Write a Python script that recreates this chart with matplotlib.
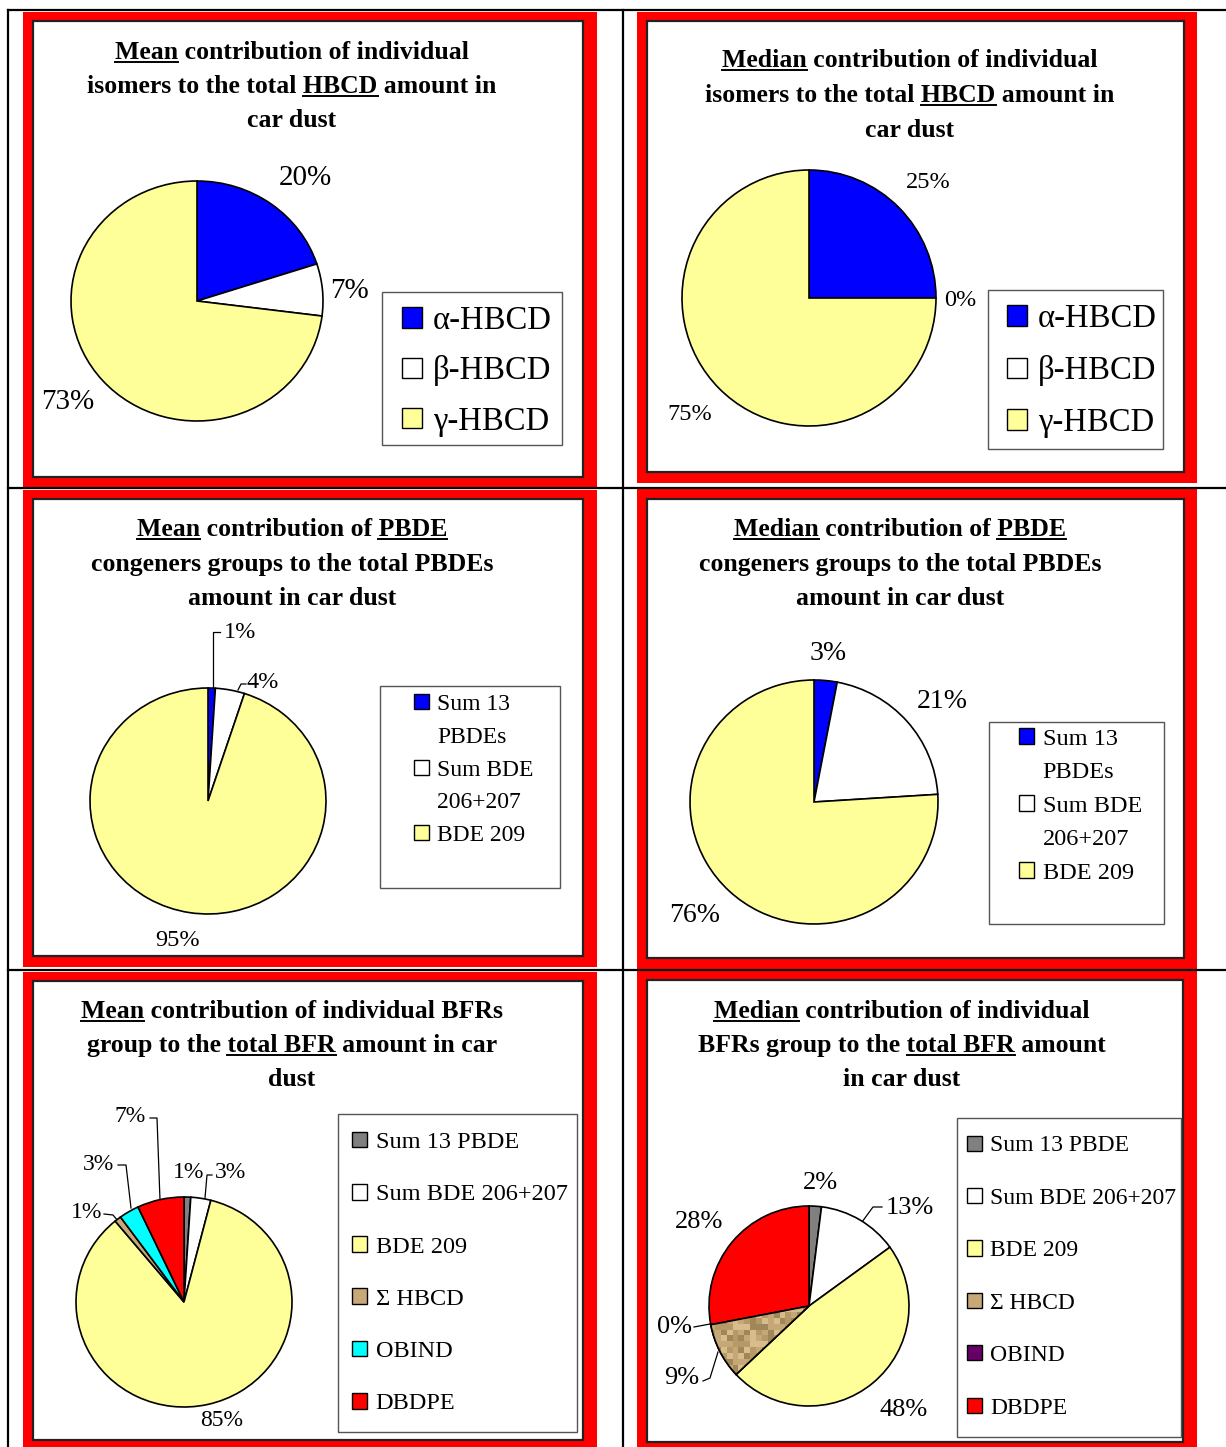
import numpy as np
import matplotlib
matplotlib.use("Agg")
import matplotlib.pyplot as plt
import matplotlib.patches as mpatches
from matplotlib.font_manager import FontProperties

# ---- data ----
hbcd_labels = ['α-HBCD', 'β-HBCD', 'γ-HBCD']
hbcd_mean = [20, 7, 73]
hbcd_median = [25, 0, 75]

pbde_labels = ['Sum 13\nPBDEs', 'Sum BDE\n206+207', 'BDE 209']
pbde_mean = [1, 4, 95]
pbde_median = [3, 21, 76]

bfr_labels = ['Sum 13 PBDE', 'Sum BDE 206+207', 'BDE 209', 'Σ HBCD', 'OBIND', 'DBDPE']
bfr_mean = [1, 3, 85, 1, 3, 7]
bfr_median = [2, 13, 48, 9, 0, 28]

hbcd_colors = ['#0000FF', '#FFFFFF', '#FFFF99']
pbde_colors = ['#0000FF', '#FFFFFF', '#FFFF99']
bfr_colors_mean = ['#808080', '#FFFFFF', '#FFFF99', '#C8A878', '#00FFFF', '#FF0000']
bfr_colors_median = ['#808080', '#FFFFFF', '#FFFF99', '#C8A878', '#660066', '#FF0000']

W, H = 1226, 1447
SERIF = 'Liberation Serif'

fig = plt.figure(figsize=(W / 100, H / 100), dpi=100)
bg = fig.add_axes([0, 0, 1, 1])
bg.set_xlim(0, W)
bg.set_ylim(H, 0)
bg.axis('off')
renderer = fig.canvas.get_renderer()

# ---- table grid and red frames ----
frames = [  # red outer, inner box
    ((23, 12, 597, 487), (33, 21, 583, 477)),
    ((637, 12, 1197, 483), (647, 21, 1184, 472)),
    ((23, 490, 597, 967), (33, 499, 583, 956)),
    ((637, 489, 1197, 969), (647, 499, 1184, 958)),
    ((23, 972, 597, 1447), (33, 981, 583, 1440)),
    ((637, 969, 1197, 1447), (647, 980, 1183, 1442)),
]
for (r0, r1, r2, r3), (i0, i1, i2, i3) in frames:
    bg.add_patch(mpatches.Rectangle((r0, r1), r2 - r0, r3 - r1, color='#FF0000', lw=0, zorder=1))
    bg.add_patch(mpatches.Rectangle((i0, i1), i2 - i0, i3 - i1, facecolor='white',
                                    edgecolor='#222222', lw=1.6, zorder=2))

for x in (8, 623):
    bg.plot([x, x], [10, H], color='black', lw=1.6, zorder=5)
for y in (10, 488, 970):
    bg.plot([8, W], [y, y], color='black', lw=1.6, zorder=5)


def text_width(s, prop):
    t = bg.text(0, 0, s, fontproperties=prop)
    w = t.get_window_extent(renderer).width
    t.remove()
    return w


def title(cx, baselines, lines, size=18.5):
    prop = FontProperties(family=SERIF, weight='bold', size=size)
    for y, (line, under) in zip(baselines, lines):
        bg.text(cx, y, line, ha='center', va='baseline', fontproperties=prop, zorder=6)
        left = cx - text_width(line, prop) / 2
        for word in under:
            k = line.index(word) + len(word)
            x1 = left + text_width(line[:k], prop)
            x0 = x1 - text_width(word, prop)
            bg.plot([x0, x1], [y + 3, y + 3], color='black', lw=1.4, zorder=6)


def pie(cx, cy, rx, ry, values, colors):
    ax = fig.add_axes([(cx - rx) / W, 1 - (cy + ry) / H, 2 * rx / W, 2 * ry / H])
    wedges, _ = ax.pie(values, colors=colors, startangle=90, counterclock=False,
                       wedgeprops=dict(edgecolor='black', linewidth=1.2))
    ax.set_aspect('auto')
    ax.set_xlim(-1, 1)
    ax.set_ylim(-1, 1)
    ax.axis('off')
    return ax, wedges


def pct_labels(values, positions, size):
    for v, (x, y) in zip(values, positions):
        bg.text(x, y, f'{v}%', ha='center', va='center', family=SERIF, size=size, zorder=6)


def leaders(paths):
    for p in paths:
        xs, ys = zip(*p)
        bg.plot(xs, ys, color='black', lw=0.9, zorder=6)


def legend(box, labels, colors, fs, padx, ls, hs, cy=None):
    x0, y0, x1, y1 = box
    if cy is None:
        cy = (y0 + y1) / 2
    bg.add_patch(mpatches.Rectangle((x0, y0), x1 - x0, y1 - y0, facecolor='white',
                                    edgecolor='#555555', lw=1.0, zorder=3))
    handles, texts = [], []
    for lab, c in zip(labels, colors):
        for n, part in enumerate(lab.split('\n')):
            if n == 0:
                handles.append(mpatches.Patch(facecolor=c, edgecolor='black', lw=1.0))
            else:
                handles.append(mpatches.Patch(facecolor='none', edgecolor='none'))
            texts.append(part)
    fig.legend(handles, texts, loc='center left',
               bbox_to_anchor=((x0 + padx) / W, 1 - cy / H),
               frameon=False, prop=FontProperties(family=SERIF, size=fs),
               handlelength=hs, handleheight=hs, handletextpad=0.35,
               labelspacing=ls, borderpad=0, borderaxespad=0)


# ---- cell 1: mean HBCD ----
title(292, [59, 93, 127], [("Mean contribution of individual", ["Mean"]),
                          ("isomers to the total HBCD amount in", ["HBCD"]),
                          ("car dust", [])])
pie(197, 301, 126, 120, hbcd_mean, hbcd_colors)
pct_labels(hbcd_mean, [(305, 178), (350, 291), (68, 402)], 21)
legend((382, 292, 562, 445), hbcd_labels, hbcd_colors, 23.5, 20, 0.6, 0.6, cy=371)

# ---- cell 2: median HBCD ----
title(910, [67, 102, 137], [("Median contribution of individual", ["Median"]),
                           ("isomers to the total HBCD amount in", ["HBCD"]),
                           ("car dust", [])])
pie(809, 298, 127, 128, hbcd_median, hbcd_colors)
pct_labels(hbcd_median, [(928, 183), (960, 301), (690, 415)], 17.5)
legend((988, 290, 1163, 449), hbcd_labels, hbcd_colors, 23.5, 19, 0.65, 0.6, cy=371)

# ---- cell 3: mean PBDE ----
title(292, [536, 571, 605], [("Mean contribution of PBDE", ["Mean", "PBDE"]),
                            ("congeners groups to the total PBDEs", []),
                            ("amount in car dust", [])])
pie(208, 801, 118, 113, pbde_mean, pbde_colors)
pct_labels(pbde_mean, [(240, 633), (263, 683), (178, 940)], 17.5)
leaders([[(213, 689), (213, 632), (220, 632)], [(238, 690), (241, 684), (246, 684)]])
legend((380, 686, 560, 888), pbde_labels, pbde_colors, 17, 34, 0.5, 0.62, cy=770)

# ---- cell 4: median PBDE ----
title(900, [536, 571, 605], [("Median contribution of PBDE", ["Median", "PBDE"]),
                            ("congeners groups to the total PBDEs", []),
                            ("amount in car dust", [])])
pie(814, 802, 124, 122, pbde_median, pbde_colors)
pct_labels(pbde_median, [(828, 654), (942, 701), (695, 916)], 20)
legend((989, 722, 1164, 924), pbde_labels, pbde_colors, 17.5, 30, 0.5, 0.62, cy=806)

# ---- cell 5: mean BFR ----
title(292, [1018, 1052, 1086], [("Mean contribution of individual BFRs", ["Mean"]),
                               ("group to the total BFR amount in car", ["total BFR"]),
                               ("dust", [])])
pie(184, 1302, 108, 105, bfr_mean, bfr_colors_mean)
pct_labels(bfr_mean, [(189, 1172), (230, 1172), (222, 1421), (87, 1213), (98, 1165), (130, 1117)], 17)
leaders([[(205, 1198), (207, 1175), (212, 1175)],
         [(160, 1200), (157, 1118), (150, 1118)],
         [(131, 1208), (126, 1165), (118, 1165)],
         [(118, 1221), (113, 1215), (104, 1214)]])
legend((338, 1114, 577, 1432), bfr_labels, bfr_colors_mean, 17.5, 14, 1.27, 0.62, cy=1273)

# ---- cell 6: median BFR ----
title(902, [1018, 1052, 1086], [("Median contribution of individual", ["Median"]),
                               ("BFRs group to the total BFR amount", ["total BFR"]),
                               ("in car dust", [])])
ax6, w6 = pie(809, 1306, 100, 100, bfr_median, bfr_colors_median)
# checkered texture for the HBCD wedge
shades = np.array([[0.78, 0.66, 0.47], [0.63, 0.53, 0.35], [0.85, 0.74, 0.55], [0.72, 0.60, 0.41]])
ii, jj = np.mgrid[0:34, 0:34]
tex = shades[(ii * 3 + jj * 5 + (ii * jj) % 3) % 4]
img = ax6.imshow(tex, extent=[-1, 1, -1, 1], interpolation='nearest', zorder=1.5, aspect='auto')
img.set_clip_path(w6[3])
ax6.add_patch(mpatches.Wedge((0, 0), 1, w6[3].theta1, w6[3].theta2, facecolor='none',
                             edgecolor='black', lw=1.2, zorder=2))
ax6.set_xlim(-1, 1)
ax6.set_ylim(-1, 1)
pct_labels(bfr_median, [(820, 1183), (910, 1208), (904, 1410), (682, 1378), (674, 1327), (699, 1222)], 19)
leaders([[(862, 1222), (873, 1207), (882, 1207)],
         [(710, 1324), (694, 1327)],
         [(718, 1352), (710, 1378), (703, 1381)]])
legend((957, 1118, 1181, 1437), bfr_labels, bfr_colors_median, 17, 10, 1.33, 0.62, cy=1277)

fig.savefig('out.png', dpi=100)
